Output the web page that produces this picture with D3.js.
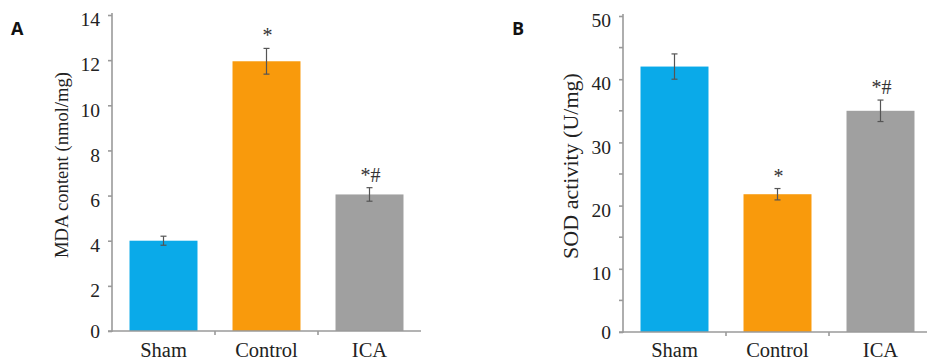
<!DOCTYPE html>
<meta charset="utf-8">
<style>
body { margin: 0; background: #fff; }
svg { display: block; }
.axis path, .axis line { stroke: #9a9a9a; stroke-width: 1.6; }
.axis text { font-family: "Liberation Serif", "Times New Roman", serif; font-size: 19.5px; fill: #222; }
.xaxis text { font-size: 20.5px; }
.ytitle { font-family: "Liberation Serif", serif; fill: #222; }
.panel { font-family: "Open Sans", sans-serif; font-weight: bold; font-size: 18px; fill: #111; }
.sig { font-family: "Liberation Serif", serif; font-size: 20px; fill: #333; }
.err { stroke: #555; stroke-width: 1.2; }
</style>
<body>
<div id="chart"></div>
<script src="https://cdn.jsdelivr.net/npm/d3@7"></script>
<script>
// groups
var groups = ["Sham", "Control", "ICA"]
var colors = ["#0AAAE9", "#F99A0C", "#A0A0A0"]

// panel A: MDA content
var mdaMean = [4.0, 11.95, 6.05]
var mdaErr = [0.2, 0.57, 0.3]
var mdaSig = ["", "*", "*#"]
var mdaTicks = [0, 2, 4, 6, 8, 10, 12, 14]

// panel B: SOD activity
var sodMean = [42.0, 21.8, 35.0]
var sodErr = [2.0, 0.9, 1.7]
var sodSig = ["", "*", "*#"]
var sodTicks = [0, 10, 20, 30, 40, 50]
var sodMinor = [5, 15, 25, 35, 45]

var W = 927, H = 362

var svg = d3.select("#chart").append("svg")
    .attr("width", W).attr("height", H)

function panel(opt) {
  var x = d3.scaleBand().domain(groups).range([opt.x0, opt.x0 + 309]).paddingInner(0.34).paddingOuter(0.17)
  var y = d3.scaleLinear().domain([0, opt.max]).range([opt.yb, opt.yt])
  var g = svg.append("g")

  // bars
  g.selectAll("rect.bar").data(opt.mean).enter().append("rect")
      .attr("class", "bar")
      .attr("x", function(d, i) { return x(groups[i]) })
      .attr("width", x.bandwidth())
      .attr("y", function(d) { return y(d) })
      .attr("height", function(d) { return y(0) - y(d) })
      .attr("fill", function(d, i) { return colors[i] })

  // error bars
  var cx = function(d, i) { return x(groups[i]) + x.bandwidth() / 2 }
  var eb = g.selectAll("g.eb").data(opt.mean).enter().append("g").attr("class", "eb")
  eb.append("line").attr("class", "err")
      .attr("x1", cx).attr("x2", cx)
      .attr("y1", function(d, i) { return y(d - opt.err[i]) })
      .attr("y2", function(d, i) { return y(d + opt.err[i]) })
  ;[1, -1].forEach(function(s) {
    eb.append("line").attr("class", "err")
        .attr("x1", function(d, i) { return cx(d, i) - 3 })
        .attr("x2", function(d, i) { return cx(d, i) + 3 })
        .attr("y1", function(d, i) { return y(d + s * opt.err[i]) })
        .attr("y2", function(d, i) { return y(d + s * opt.err[i]) })
  })

  // significance marks
  g.selectAll("text.sig").data(opt.sig).enter().append("text")
      .attr("class", "sig")
      .attr("text-anchor", "middle")
      .attr("x", function(d, i) { return cx(d, i) + 1 })
      .attr("y", function(d, i) { return y(opt.mean[i] + opt.err[i]) - 6 })
      .text(function(d) { return d })

  // y axis
  var ya = g.append("g").attr("class", "axis")
      .attr("transform", "translate(" + opt.x0 + ",0)")
      .call(d3.axisLeft(y).tickValues(opt.ticks).tickSize(4).tickSizeOuter(0).tickPadding(8))
  ya.selectAll(".tick text").attr("dy", function(d) { return d === 0 ? "0.32em" : "0.55em" })
  if (opt.minor) {
    ya.selectAll("line.minor").data(opt.minor).enter().append("line")
        .attr("class", "minor")
        .attr("x1", -4).attr("x2", 0)
        .attr("y1", function(d) { return y(d) }).attr("y2", function(d) { return y(d) })
  }
  ya.select(".domain").attr("d", "M0," + (opt.yt - 2) + "V" + (opt.yb + 1))

  // x axis
  var xa = g.append("g").attr("class", "axis xaxis")
      .attr("transform", "translate(0," + opt.yb + ")")
      .call(d3.axisBottom(x).tickSize(0).tickPadding(opt.xpad))
  xa.select(".domain").attr("d", "M" + (opt.x0 - 4) + ",0H" + (opt.x0 + 309))
  xa.selectAll("line.sep").data(groups.slice(1)).enter().append("line")
      .attr("class", "sep")
      .attr("x1", function(d) { return x(d) - x.step() * 0.17 })
      .attr("x2", function(d) { return x(d) - x.step() * 0.17 })
      .attr("y1", 0).attr("y2", 4)

  // title
  g.append("text").attr("class", "ytitle")
      .attr("transform", "translate(" + opt.tx + "," + opt.ty + ") rotate(-90)")
      .attr("text-anchor", "middle")
      .style("font-size", opt.tsize + "px")
      .text(opt.title)

  g.append("text").attr("class", "panel")
      .attr("x", opt.lx).attr("y", 35)
      .text(opt.label)
}

panel({ x0: 112, yb: 331, yt: 15, max: 14, mean: mdaMean, err: mdaErr, sig: mdaSig, xpad: 11,
        ticks: mdaTicks, title: "MDA content (nmol/mg)", tx: 68, ty: 165, tsize: 18.6, label: "A", lx: 11 })
panel({ x0: 623, yb: 332, yt: 16, max: 50, mean: sodMean, err: sodErr, sig: sodSig, xpad: 10,
        ticks: sodTicks, minor: sodMinor, title: "SOD activity (U/mg)", tx: 578, ty: 166, tsize: 22, label: "B", lx: 512 })
</script>
</body>
